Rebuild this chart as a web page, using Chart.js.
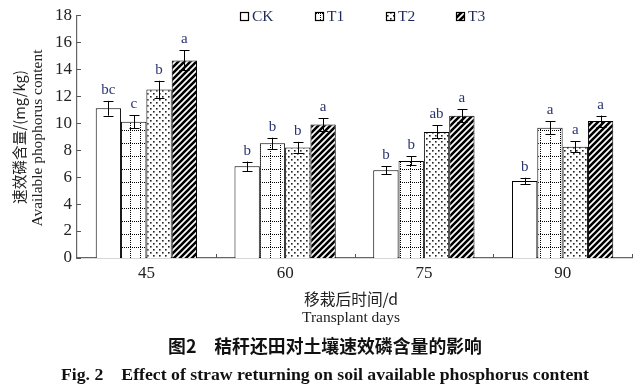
<!DOCTYPE html>
<html><head><meta charset="utf-8">
<script src="https://cdn.jsdelivr.net/npm/chart.js@4"></script>
<style>html,body{margin:0;padding:0;background:#fff}canvas{display:block}</style>
</head><body>
<canvas id="c" width="644" height="385"></canvas>
<script>
const categories = ['45', '60', '75', '90'];
const seriesNames = ['CK', 'T1', 'T2', 'T3'];
const CK = [11.1, 6.8, 6.5, 5.7];
const T1 = [10.1, 8.5, 7.2, 9.65];
const T2 = [12.5, 8.2, 9.35, 8.25];
const T3 = [14.65, 9.9, 10.55, 10.15];
const CK_err = [0.55, 0.35, 0.3, 0.25];
const T1_err = [0.47, 0.42, 0.33, 0.49];
const T2_err = [0.64, 0.41, 0.49, 0.42];
const T3_err = [0.74, 0.46, 0.49, 0.41];
const CK_sig = ['bc', 'b', 'b', 'b'];
const T1_sig = ['c', 'b', 'b', 'a'];
const T2_sig = ['b', 'b', 'ab', 'a'];
const T3_sig = ['a', 'a', 'a', 'a'];
const yTicks = [0, 2, 4, 6, 8, 10, 12, 14, 16, 18];

const serif = '"Liberation Serif", "DejaVu Serif", serif';
const cjk = '"Noto Sans CJK SC", sans-serif';

function tile(w, h, draw) {
  const c = document.createElement('canvas');
  c.width = w; c.height = h;
  const g = c.getContext('2d');
  g.fillStyle = '#fff'; g.fillRect(0, 0, w, h);
  draw(g);
  return document.getElementById('c').getContext('2d').createPattern(c, 'repeat');
}
const patCK = '#ffffff';
const patT1 = tile(10, 13, g => {
  g.fillStyle = '#000';
  for (let x = 0; x < 10; x += 2) g.fillRect(x, 0, 1, 1);
  for (let y = 0; y < 13; y += 2) g.fillRect(0, y, 1, 1);
});
const patT2 = tile(6, 6, g => {
  g.fillStyle = '#222';
  g.fillRect(0, 0, 1.6, 1.6);
  g.fillRect(3, 3, 1.6, 1.6);
});
const patT3 = tile(6, 6, g => {
  g.strokeStyle = '#000'; g.lineWidth = 2.6;
  g.beginPath();
  g.moveTo(-1, 7); g.lineTo(7, -1);
  g.moveTo(-4, 4); g.lineTo(4, -4);
  g.moveTo(2, 10); g.lineTo(10, 2);
  g.stroke();
});

const values = [CK, T1, T2, T3];
const errs = [CK_err, T1_err, T2_err, T3_err];
const sigs = [CK_sig, T1_sig, T2_sig, T3_sig];
const fills = [patCK, patT1, patT2, patT3];

function fitText(ctx, text, weight, family, target, cx, cy) {
  ctx.font = weight + ' 20px ' + family;
  const w = ctx.measureText(text).width;
  ctx.font = weight + ' ' + (20 * target / w).toFixed(2) + 'px ' + family;
  ctx.fillText(text, cx, cy);
}

const overlay = {
  id: 'overlay',
  afterDatasetsDraw(chart) {
    const ctx = chart.ctx;
    const y = chart.scales.y, x = chart.scales.x;
    ctx.save();
    ctx.strokeStyle = '#000'; ctx.lineWidth = 1;
    for (let d = 0; d < values.length; d++) {
      const meta = chart.getDatasetMeta(d);
      meta.data.forEach((bar, i) => {
        const v = values[d][i], e = errs[d][i];
        const yt = y.getPixelForValue(v + e), yb = y.getPixelForValue(v - e);
        const cx = Math.round(bar.x) + 0.5;
        ctx.beginPath();
        ctx.moveTo(cx, yt); ctx.lineTo(cx, yb);
        ctx.moveTo(cx - 5, Math.round(yt) + 0.5); ctx.lineTo(cx + 5, Math.round(yt) + 0.5);
        ctx.moveTo(cx - 5, Math.round(yb) + 0.5); ctx.lineTo(cx + 5, Math.round(yb) + 0.5);
        ctx.stroke();
        ctx.fillStyle = '#2b3570';
        ctx.font = '15px ' + serif;
        ctx.textAlign = 'center'; ctx.textBaseline = 'alphabetic';
        ctx.fillText(sigs[d][i], bar.x, yt - 7);
      });
    }
    ctx.strokeStyle = '#555';
    ctx.beginPath();
    yTicks.forEach(t => {
      const py = Math.round(y.getPixelForValue(t)) + 0.5;
      ctx.moveTo(x.left, py); ctx.lineTo(x.left + 4, py);
    });
    const n = categories.length, w = (x.right - x.left) / n;
    for (let i = 1; i <= n; i++) {
      const px = Math.round(x.left + i * w) + 0.5;
      ctx.moveTo(px, y.bottom); ctx.lineTo(px, y.bottom - 4);
    }
    ctx.stroke();
    const lx = [240, 315, 386, 456];
    ctx.font = '15.5px ' + serif;
    ctx.textAlign = 'left'; ctx.textBaseline = 'alphabetic';
    for (let d = 0; d < 4; d++) {
      ctx.fillStyle = fills[d];
      ctx.fillRect(lx[d], 12, 8, 8);
      ctx.strokeStyle = '#000'; ctx.lineWidth = 1.2;
      ctx.strokeRect(lx[d] + 0.5, 12.5, 8, 8);
      ctx.fillStyle = '#1e2a5a';
      ctx.fillText(seriesNames[d], lx[d] + 12, 21);
    }
    ctx.fillStyle = '#222';
    ctx.textAlign = 'center'; ctx.textBaseline = 'middle';
    ctx.save();
    ctx.translate(19, 137); ctx.rotate(-Math.PI / 2);
    fitText(ctx, '速效磷含量/(mg/kg)', '', cjk, 134, 0, 0);
    ctx.restore();
    ctx.save();
    ctx.translate(38, 138); ctx.rotate(-Math.PI / 2);
    fitText(ctx, 'Available phophorus content', '', serif, 177, 0, 0);
    ctx.restore();
    fitText(ctx, '移栽后时间/d', '', cjk, 94, 351, 299);
    fitText(ctx, 'Transplant days', '', serif, 98, 351, 318);
    ctx.fillStyle = '#111';
    fitText(ctx, '图2\u3000秸秆还田对土壤速效磷含量的影响', 'bold', cjk, 314, 325, 346);
    fitText(ctx, 'Fig. 2\u3000Effect of straw returning on soil available phosphorus content', 'bold', serif, 528, 325, 375);
    ctx.restore();
  }
};

new Chart(document.getElementById('c'), {
  type: 'bar',
  data: {
    labels: categories,
    datasets: seriesNames.map((name, d) => ({
      label: name,
      data: values[d],
      backgroundColor: fills[d],
      borderColor: '#000',
      borderWidth: 1,
      borderSkipped: 'bottom',
      categoryPercentage: 0.73,
      barPercentage: 1.0
    }))
  },
  options: {
    responsive: false,
    animation: false,
    devicePixelRatio: 1,
    layout: { padding: { left: 0, right: 12, top: 14, bottom: 0 } },
    plugins: { legend: { display: false }, tooltip: { enabled: false }, title: { display: false } },
    scales: {
      x: {
        grid: { display: false, drawTicks: false },
        border: { display: true, color: '#666', width: 1.2 },
        ticks: { color: '#222', font: { family: serif, size: 17 }, padding: 5 },
        afterFit: s => { s.height = 127; }
      },
      y: {
        min: 0, max: 18,
        afterBuildTicks: s => { s.ticks = yTicks.map(v => ({ value: v })); },
        grid: { display: false, drawTicks: false },
        border: { display: true, color: '#666', width: 1.2 },
        ticks: { color: '#222', font: { family: serif, size: 17 }, padding: 5 },
        afterFit: s => { s.width = 77; }
      }
    }
  },
  plugins: [overlay]
});
</script>
</body></html>
